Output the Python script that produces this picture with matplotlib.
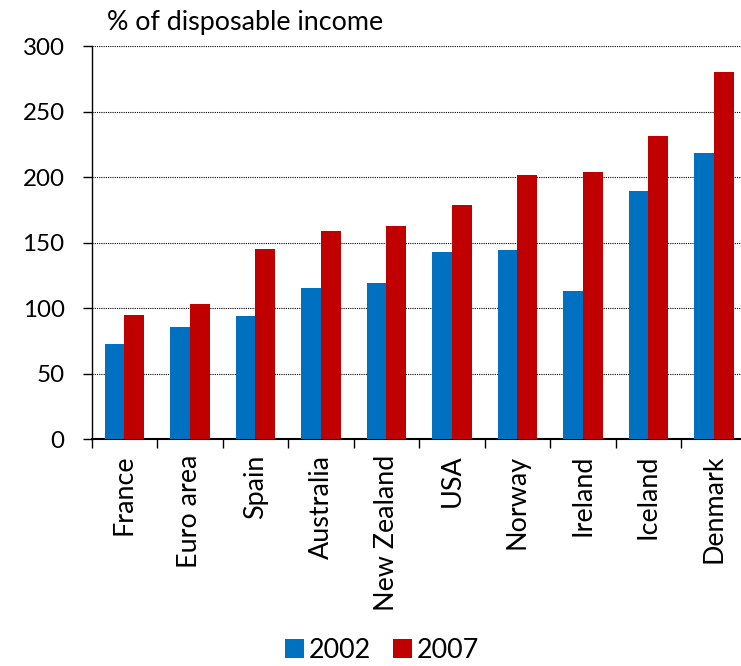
import numpy as np
import matplotlib
matplotlib.use("Agg")
import matplotlib.pyplot as plt

plt.rcParams['font.family'] = ['Lato', 'DejaVu Sans']

countries = ["France", "Euro area", "Spain", "Australia", "New Zealand",
             "USA", "Norway", "Ireland", "Iceland", "Denmark"]
vals_2002 = [72.7, 85.7, 94.1, 115.4, 119.5, 142.9, 144.2, 113.4, 189.4, 218.7]
vals_2007 = [94.6, 103.2, 144.9, 158.9, 162.5, 178.5, 201.6, 203.7, 231.1, 280.2]
years = ["2002", "2007"]

blue = "#0070C0"
red = "#C00000"
fs = 17.4      # y tick labels
fs_txt = 19.4  # title, category labels, legend

fig = plt.figure(figsize=(7.41, 6.66), dpi=100)
ax = fig.add_axes([0.1237, 0.3404, 0.884, 0.5905])

x = np.arange(len(countries))
w = 0.3
ax.bar(x - w / 2, vals_2002, w, color=blue, label=years[0], zorder=3)
ax.bar(x + w / 2, vals_2007, w, color=red, label=years[1], zorder=3)

ax.set_xlim(-0.5, len(countries) - 0.5)
ax.set_ylim(0, 300)
ax.set_yticks(np.arange(0, 301, 50))
ax.yaxis.grid(True, color="black", linestyle=(0, (1, 1)), linewidth=0.8, zorder=0)
ax.set_axisbelow(True)

ax.set_xticks(x)
ax.set_xticklabels(countries, rotation=90, fontsize=fs_txt)
ax.tick_params(axis="x", which="major", length=0, pad=11)
ax.set_xticks(np.arange(-0.5, len(countries), 1), minor=True)
ax.tick_params(axis="x", which="minor", length=6.5, width=1, direction="out")
ax.tick_params(axis="y", labelsize=fs, length=6.5, width=1, pad=13)

for s in ["top", "right"]:
    ax.spines[s].set_visible(False)
ax.spines["left"].set_linewidth(1.0)
ax.spines["bottom"].set_linewidth(1.5)

fig.text(107 / 741, 0.955, "% of disposable income", fontsize=fs_txt,
         ha="left", va="baseline")

fig.legend(loc="center", bbox_to_anchor=(382 / 741, 1 - 650 / 666), ncol=2,
           frameon=False, fontsize=fs_txt, handlelength=0.7, handleheight=0.7,
           handletextpad=0.2, columnspacing=0.8, borderpad=0.2)

fig.savefig("out.png", dpi=100)
